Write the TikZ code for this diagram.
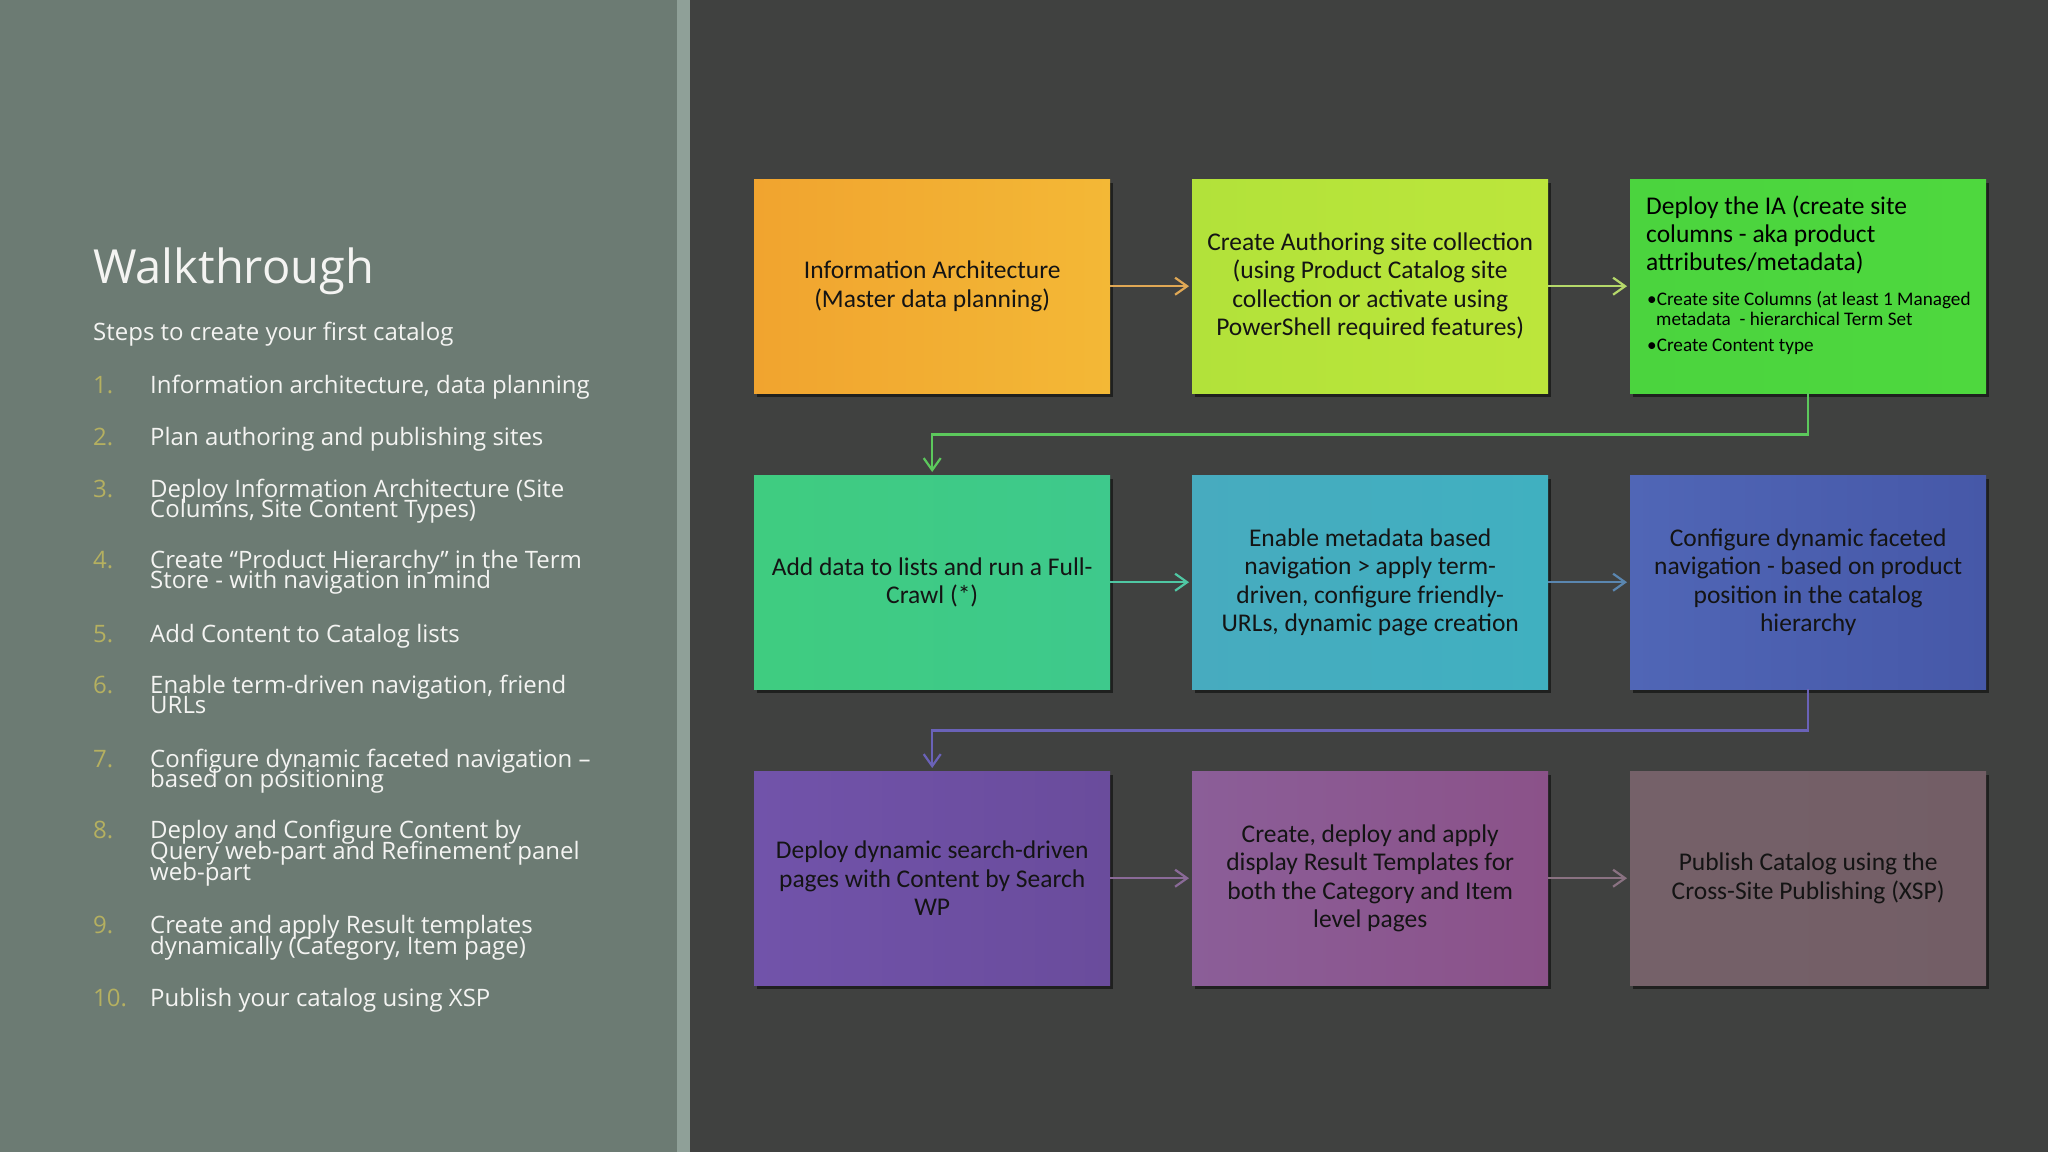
\documentclass[tikz,border=0pt]{standalone}
\usepackage{fontspec}
\setmainfont{Carlito}
\newfontfamily\leftfont{Open Sans}
\usetikzlibrary{arrows.meta,shadows}
\definecolor{bgdark}{HTML}{404140}
\definecolor{panel}{HTML}{6C7B73}
\definecolor{stripe}{HTML}{8FA098}
\definecolor{numcol}{HTML}{B5B060}
\definecolor{lefttext}{HTML}{F4F4F2}
\definecolor{boxtext}{HTML}{141414}
\definecolor{oA}{HTML}{F1A42F}\definecolor{oB}{HTML}{F3B836}
\definecolor{gA}{HTML}{B2E23A}\definecolor{gB}{HTML}{BCE63B}
\definecolor{kA}{HTML}{4BD43E}\definecolor{kB}{HTML}{4ED83E}
\definecolor{tA}{HTML}{3FCC80}\definecolor{tB}{HTML}{3EC98C}
\definecolor{sA}{HTML}{47ABBF}\definecolor{sB}{HTML}{40B0C0}
\definecolor{bA}{HTML}{5066B6}\definecolor{bB}{HTML}{4658A8}
\definecolor{pA}{HTML}{7153AA}\definecolor{pB}{HTML}{6A4C9C}
\definecolor{mA}{HTML}{8B5E98}\definecolor{mB}{HTML}{8B5289}
\definecolor{rA}{HTML}{756169}\definecolor{rB}{HTML}{735E66}
\definecolor{c1}{HTML}{E0A855}
\definecolor{c2}{HTML}{B5D86A}
\definecolor{c3}{HTML}{5CC85C}
\definecolor{c4}{HTML}{4FC8A4}
\definecolor{c5}{HTML}{5A86B0}
\definecolor{c6}{HTML}{6A62B8}
\definecolor{c7}{HTML}{8A6A98}
\definecolor{c8}{HTML}{8A7282}
\tikzset{
  title/.style={anchor=base west, inner sep=0, text=lefttext, font=\leftfont\fontsize{47}{52}\selectfont},
  subtitle/.style={anchor=base west, inner sep=0, text=lefttext, font=\leftfont\fontsize{24}{28}\selectfont},
  numlbl/.style={anchor=base west, inner sep=0, text=numcol, font=\leftfont\fontsize{24}{28}\selectfont},
  itemline/.style={anchor=base west, inner sep=0, text=lefttext, font=\leftfont\fontsize{24}{28}\selectfont},
  stepbox/.style={anchor=north west, minimum width=356pt, minimum height=214pt, inner sep=0pt,
    align=center, text=boxtext, font=\fontsize{25.5}{28.5}\selectfont,
    drop shadow={shadow xshift=2.5pt, shadow yshift=-3.5pt, opacity=0.5, fill=black}},
  headline/.style={anchor=base west, inner sep=0, text=black, font=\fontsize{25.5}{28.5}\selectfont},
  bulline/.style={anchor=base west, inner sep=0, text=black, font=\fontsize{19.2}{21}\selectfont},
  conn/.style={line width=2.2pt, -{Straight Barb[length=12pt,width=17pt,line width=2.2pt]}, shorten >=3pt}
}
\begin{document}
\begin{tikzpicture}[x=1pt,y=-1pt]
\useasboundingbox (0,0) rectangle (2048,1152);
\fill[bgdark] (0,0) rectangle (2048,1152);
\fill[panel] (0,0) rectangle (677,1152);
\fill[stripe] (677,0) rectangle (690,1152);

% left panel
\node[title] (wt) at (93,283) {Walkthrough};
\node[subtitle] (steps) at (93,340) {Steps to create your first catalog};
\node[numlbl] (n1) at (93,393) {1.};
\node[itemline] (i1) at (150,393) {Information architecture, data planning};
\node[numlbl] (n2) at (93,445) {2.};
\node[itemline] (i2) at (150,445) {Plan authoring and publishing sites};
\node[numlbl] (n3) at (93,497) {3.};
\node[itemline] (i3a) at (150,497) {Deploy Information Architecture (Site};
\node[itemline] (i3b) at (150,517) {Columns, Site Content Types)};
\node[numlbl] (n4) at (93,568) {4.};
\node[itemline] (i4a) at (150,568) {Create “Product Hierarchy” in the Term};
\node[itemline] (i4b) at (150,588) {Store - with navigation in mind};
\node[numlbl] (n5) at (93,642) {5.};
\node[itemline] (i5) at (150,642) {Add Content to Catalog lists};
\node[numlbl] (n6) at (93,693) {6.};
\node[itemline] (i6a) at (150,693) {Enable term-driven navigation, friend};
\node[itemline] (i6b) at (150,713) {URLs};
\node[numlbl] (n7) at (93,767) {7.};
\node[itemline] (i7a) at (150,767) {Configure dynamic faceted navigation –};
\node[itemline] (i7b) at (150,787) {based on positioning};
\node[numlbl] (n8) at (93,838) {8.};
\node[itemline] (i8a) at (150,838) {Deploy and Configure Content by};
\node[itemline] (i8b) at (150,859) {Query web-part and Refinement panel};
\node[itemline] (i8c) at (150,880) {web-part};
\node[numlbl] (n9) at (93,933) {9.};
\node[itemline] (i9a) at (150,933) {Create and apply Result templates};
\node[itemline] (i9b) at (150,954) {dynamically (Category, Item page)};
\node[numlbl] (n10) at (93,1006) {10.};
\node[itemline] (i10) at (150,1006) {Publish your catalog using XSP};

% boxes
\node[stepbox, left color=oA, right color=oB] (b1) at (754,179) {Information Architecture\\(Master data planning)};
\node[stepbox, left color=gA, right color=gB] (b2) at (1192,179) {Create Authoring site collection\\(using Product Catalog site\\collection or activate using\\PowerShell required features)};
\node[stepbox, left color=kA, right color=kB] (b3) at (1630,179) {};
\node[headline] (h1) at (1646,214) {Deploy the IA (create site};
\node[headline] (h2) at (1646,242) {columns - aka product};
\node[headline] (h3) at (1646,270) {attributes/metadata)};
\node[bulline] (u1) at (1647,305) {•Create site Columns (at least 1 Managed};
\node[bulline] (u2) at (1656,325) {metadata \ - hierarchical Term Set};
\node[bulline] (u3) at (1647,351) {•Create Content type};

\node[stepbox, left color=tA, right color=tB] (b4) at (754,475) {Add data to lists and run a Full-\\Crawl (*)};
\node[stepbox, left color=sA, right color=sB] (b5) at (1192,475) {Enable metadata based\\navigation > apply term-\\driven, configure friendly-\\URLs, dynamic page creation};
\node[stepbox, left color=bA, right color=bB] (b6) at (1630,475) {Configure dynamic faceted\\navigation - based on product\\position in the catalog\\hierarchy};

\node[stepbox, left color=pA, right color=pB] (b7) at (754,771) {Deploy dynamic search-driven\\pages with Content by Search\\WP};
\node[stepbox, left color=mA, right color=mB] (b8) at (1192,771) {Create, deploy and apply\\display Result Templates for\\both the Category and Item\\level pages};
\node[stepbox, left color=rA, right color=rB] (b9) at (1630,771) {Publish Catalog using the\\Cross-Site Publishing (XSP)};

% connectors
\draw[conn, c1] (b1.east) -- (b2.west);
\draw[conn, c2] (b2.east) -- (b3.west);
\draw[conn, c3] (b3.south) -- ++(0,41) -| (b4.north);
\draw[conn, c4] (b4.east) -- (b5.west);
\draw[conn, c5] (b5.east) -- (b6.west);
\draw[conn, c6] (b6.south) -- ++(0,41) -| (b7.north);
\draw[conn, c7] (b7.east) -- (b8.west);
\draw[conn, c8] (b8.east) -- (b9.west);
\end{tikzpicture}
\end{document}
